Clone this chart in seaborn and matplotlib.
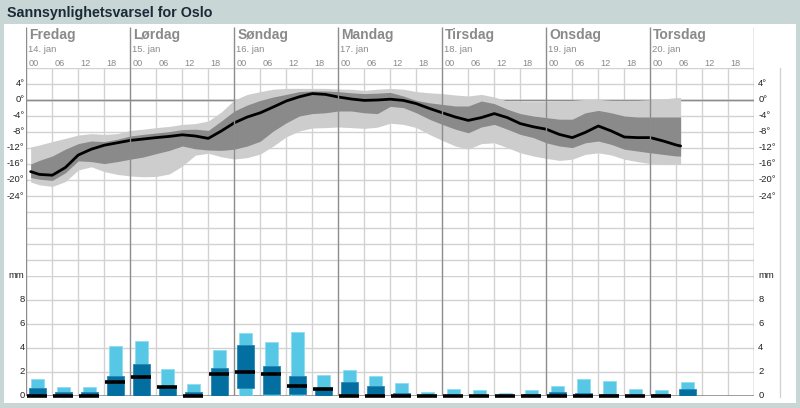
import numpy as np
import pandas as pd
import matplotlib
matplotlib.use("Agg")
import matplotlib.pyplot as plt
from matplotlib.lines import Line2D
from matplotlib.patches import Rectangle
import seaborn as sns

# ---------------- data ----------------
title = "Sannsynlighetsvarsel for Oslo"
day_names = ["Fredag", "Lørdag", "Søndag", "Mandag", "Tirsdag", "Onsdag", "Torsdag"]
day_dates = ["14. jan", "15. jan", "16. jan", "17. jan", "18. jan", "19. jan", "20. jan"]
hour_labels = ["00", "06", "12", "18"]

temp_hours = [1, 3, 6, 9, 12, 15, 18, 21, 24, 27, 30, 33, 36, 39, 42, 45, 48, 51, 54, 57,
              60, 63, 66, 69, 72, 75, 78, 81, 84, 87, 90, 93, 96, 99, 102, 105, 108, 111,
              114, 117, 120, 123, 126, 129, 132, 135, 138, 141, 144, 147, 150, 151]
temp_median = [-17.9, -18.6, -18.8, -16.9, -13.75, -12.3, -11.3, -10.7, -10.1, -9.75, -9.4,
               -9.1, -8.7, -9.0, -9.6, -7.75, -5.7, -4.25, -3.2, -1.75, -0.25, 0.8, 1.6, 1.4,
               0.75, 0.25, -0.1, 0.0, 0.2, -0.1, -0.9, -2.1, -3.2, -4.25, -5.1, -4.4, -3.4,
               -4.4, -5.9, -6.7, -7.3, -8.6, -9.4, -8.1, -6.5, -7.75, -9.25, -9.4, -9.4,
               -10.25, -11.25, -11.5]
temp_dark_hi = [-16.0, -15.1, -14.0, -12.3, -10.9, -10.25, -10.4, -9.8, -9.0, -8.6, -8.25,
                -7.9, -7.4, -7.3, -7.6, -5.25, -2.75, -1.25, -0.1, 0.75, 1.4, 2.1, 2.25, 2.25,
                2.1, 1.8, 1.6, 1.7, 1.9, 1.0, -0.1, -0.7, -1.1, -1.5, -1.5, -0.25, -0.9, -2.3,
                -3.4, -4.0, -4.4, -4.8, -4.8, -3.2, -2.6, -3.2, -4.0, -4.25, -4.25, -4.25,
                -4.25, -4.25]
temp_dark_lo = [-19.4, -19.8, -20.1, -18.2, -15.2, -15.4, -15.9, -15.4, -14.8, -14.25, -13.4,
                -12.6, -11.5, -12.2, -12.5, -12.6, -12.3, -11.5, -10.3, -7.75, -5.7, -4.0,
                -3.4, -3.2, -2.75, -2.75, -3.2, -3.4, -1.6, -1.9, -3.2, -4.8, -6.1, -7.3,
                -8.2, -6.75, -6.1, -7.3, -8.6, -9.4, -10.7, -11.5, -11.9, -10.7, -10.25,
                -11.1, -12.3, -12.75, -13.2, -13.6, -14.0, -14.0]
temp_light_hi = [-11.75, -11.25, -10.4, -9.6, -8.75, -8.4, -8.6, -8.4, -7.6, -7.3, -6.9,
                 -6.6, -6.1, -5.9, -5.25, -3.0, 0.0, 1.4, 2.1, 2.7, 2.9, 2.9, 2.9, 2.9, 2.75,
                 2.7, 2.4, 2.7, 2.9, 2.7, 2.1, 1.8, 1.6, 1.25, 1.0, 1.4, 0.75, -0.25, -0.4,
                 -0.4, -0.4, -0.25, -0.1, 0.15, 0.15, -0.1, -0.1, -0.1, 0.1, 0.25, 0.6, 0.6]
temp_light_lo = [-20.5, -21.2, -21.6, -20.4, -17.5, -16.7, -17.9, -18.6, -19.0, -19.2, -19.1,
                 -18.5, -16.5, -13.8, -13.3, -14.2, -14.75, -14.4, -13.5, -11.5, -9.2, -7.75,
                 -7.0, -6.9, -6.75, -6.9, -7.1, -6.8, -5.8, -6.1, -6.9, -8.6, -10.1, -11.5,
                 -12.3, -10.9, -10.7, -11.9, -13.2, -14.0, -14.6, -15.1, -14.8, -13.6, -13.2,
                 -13.75, -14.8, -15.4, -15.9, -16.1, -16.1, -16.1]

precip_start_hours = [6 * k for k in range(26)]
precip_high = [1.39, 0.75, 0.75, 4.14, 4.56, 2.25, 0.97, 3.86, 5.25, 4.47, 5.36, 1.75, 2.17,
               1.67, 1.06, 0.36, 0.58, 0.50, 0.28, 0.50, 0.86, 1.39, 1.28, 0.58, 0.50, 1.17]
precip_q_hi = [0.67, 0.33, 0.33, 1.67, 2.64, 0.83, 0.33, 2.36, 4.25, 2.47, 1.67, 0.64, 1.17,
               0.86, 0.25, 0.05, 0.05, 0.05, 0.05, 0.20, 0.36, 0.25, 0.14, 0.10, 0.14, 0.58]
precip_q_lo = [0, 0, 0, 0, 0, 0, 0, 0, 0.69, 0.14, 0.14, 0, 0, 0, 0, 0, 0, 0, 0, 0, 0, 0, 0,
               0, 0, 0]
precip_median = [0, 0, 0, 1.17, 1.56, 0.78, 0, 1.86, 1.97, 1.86, 0.86, 0.58, 0, 0, 0, 0, 0,
                 0, 0, 0, 0, 0, 0, 0, 0, np.nan]

temp_ticks = [4, 0, -4, -8, -12, -16, -20, -24]
precip_ticks = [0, 2, 4, 6, 8]

# ---------------- style ----------------
sns.set_theme(style="white")
plt.rcParams["font.family"] = ["Liberation Sans", "DejaVu Sans"]

W, H = 800, 408
fig = plt.figure(figsize=(W / 100, H / 100), dpi=100)
fig.patch.set_facecolor("#c8d6d5")

def fx(x):
    return x / W

def fy(y):
    return 1 - y / H

# white panel
fig.add_artist(Rectangle((fx(4), fy(403)), fx(796) - fx(4), fy(24) - fy(403),
                         transform=fig.transFigure, facecolor="white", edgecolor="none",
                         zorder=0))
fig.text(fx(7), fy(12.5), title, fontsize=10.3, fontweight="bold", color="#1b2a38",
         ha="left", va="center")

X0, X1 = 26.3, 754.3
GRID = "#d2d2d2"
DARK = "#8c8c8c"

def add_ax(top, bottom):
    return fig.add_axes([fx(X0), fy(bottom), fx(X1) - fx(X0), fy(top) - fy(bottom)])

ax_h = add_ax(24, 68)
ax_t = add_ax(68, 276)
ax_p = add_ax(276, 396)

for ax in (ax_h, ax_t, ax_p):
    ax.set_xlim(0, 168)
    ax.set_facecolor("none")
    ax.set_xticks([])
    ax.set_yticks([])
    for s in ax.spines.values():
        s.set_visible(False)

# ---------------- header ----------------
ax_h.set_ylim(44, 0)
for d in range(8):
    ax_h.plot([24 * d, 24 * d], [3, 44], color=DARK, lw=1, solid_capstyle="butt")
for d in range(7):
    ax_h.text(24 * d + 0.7, 15, day_names[d], fontsize=10, fontweight="bold",
              color="#8a8a8a", ha="left", va="baseline")
    ax_h.text(24 * d + 0.45, 28.5, day_dates[d], fontsize=6.8, color="#8a8a8a",
              ha="left", va="baseline")
    for j, hl in enumerate(hour_labels):
        ax_h.text(24 * d + 6 * j + 0.45, 41.5, hl, fontsize=6.6, color="#8a8a8a",
                  ha="left", va="baseline")

# ---------------- temperature ----------------
ax_t.set_ylim(-44, 8)
for v in range(-40, 9, 4):
    ax_t.axhline(v, color=DARK if v == 0 else GRID, lw=1, zorder=1)
for h in range(6, 168, 6):
    if h % 24:
        ax_t.axvline(h, color=GRID, lw=1, zorder=1)
ax_t.fill_between(temp_hours, temp_light_lo, temp_light_hi, color="#cdcdcd", lw=0, zorder=2)
ax_t.fill_between(temp_hours, temp_dark_lo, temp_dark_hi, color="#8a8a8a", lw=0, zorder=3)
df_t = pd.DataFrame({"hour": temp_hours, "temp": temp_median})
sns.lineplot(data=df_t, x="hour", y="temp", ax=ax_t, color="black", lw=2, zorder=4)
ax_t.set_xlabel("")
ax_t.set_ylabel("")
ax_t.set_xlim(0, 168)
ax_t.set_ylim(-44, 8)
for h in range(0, 169, 24):
    ax_t.axvline(h, color=DARK, lw=1, zorder=5)
ax_t.axhline(0, color=DARK, lw=1, zorder=1)

for v in temp_ticks:
    ax_t.text(-0.4, v, f"{v}°", transform=ax_t.transData, fontsize=6.8, color="#222222",
              ha="right", va="center", clip_on=False)
    ax_t.text(168 + 0.9, v, f"{v}°", transform=ax_t.transData, fontsize=6.8,
              color="#222222", ha="left", va="center", clip_on=False)

# ---------------- precipitation ----------------
ax_p.set_ylim(0, 10)
for v in range(2, 11, 2):
    ax_p.axhline(v, color=GRID, lw=1, zorder=1)
for h in range(6, 168, 6):
    if h % 24:
        ax_p.axvline(h, color=GRID, lw=1, zorder=1)
for h in range(0, 169, 24):
    ax_p.axvline(h, color=DARK, lw=1, zorder=1)

centers = np.array(precip_start_hours) + 2.5
q_lo = np.array(precip_q_lo)
q_hi = np.array(precip_q_hi)
ax_p.bar(centers, precip_high, width=3.0, color="#56c8e6", edgecolor="#8fdcf0", lw=0.6,
         zorder=2)
ax_p.bar(centers, q_hi - q_lo, bottom=q_lo, width=3.9, color="#036ea0", edgecolor="#2c86b2",
         lw=0.6, zorder=3)
med = np.array(precip_median)
ok = ~np.isnan(med)
ax_p.hlines(np.where(ok, med, 0)[ok], (centers - 2.3)[ok], (centers + 2.3)[ok],
            color="black", lw=2.6, zorder=4, clip_on=False)
ax_p.axhline(0, color=DARK, lw=1.2, zorder=1)

for v in precip_ticks:
    ax_p.text(-0.4, v, f"{v}", fontsize=6.8, color="#222222", ha="right", va="center",
              clip_on=False)
    ax_p.text(168 + 0.9, v, f"{v}", fontsize=6.8, color="#222222", ha="left", va="center",
              clip_on=False)
ax_p.text(-0.4, 10, "mm", fontsize=6.8, color="#222222", ha="right", va="center",
          clip_on=False)
ax_p.text(168 + 0.9, 10, "mm", fontsize=6.8, color="#222222", ha="left", va="center",
          clip_on=False)

# light right-side line
fig.add_artist(Line2D([fx(780), fx(780)], [fy(68), fy(397)], transform=fig.transFigure,
                      color=GRID, lw=1))

fig.savefig("out.png", dpi=100, facecolor=fig.get_facecolor())
